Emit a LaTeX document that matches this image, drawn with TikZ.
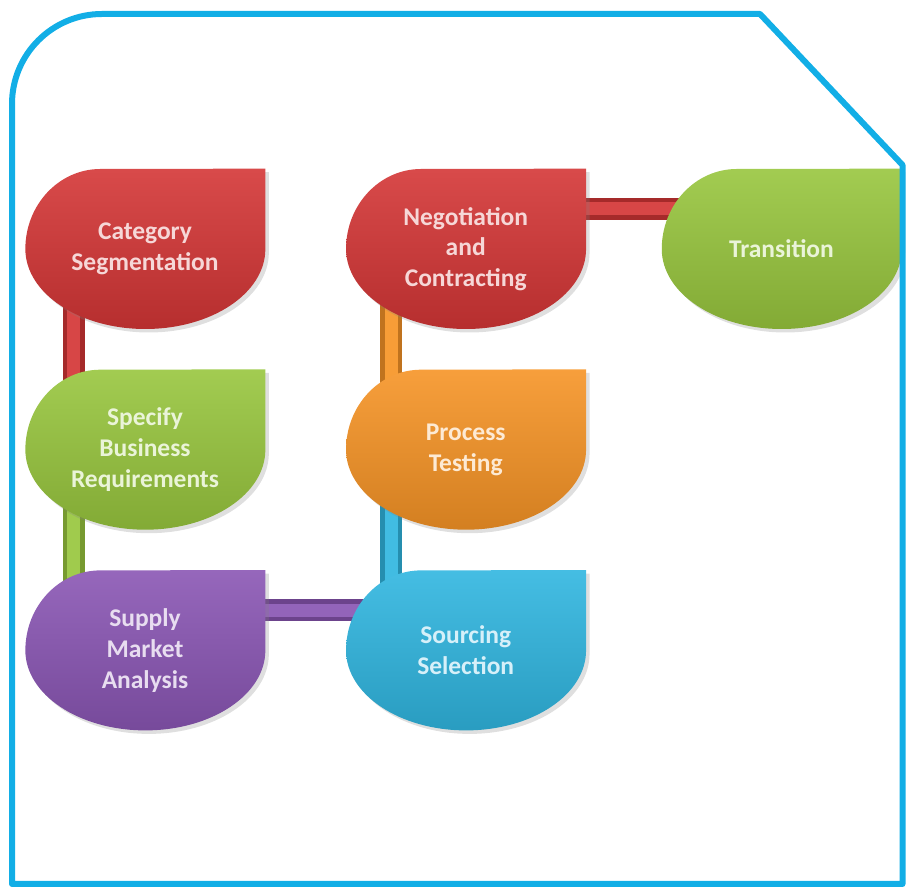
\documentclass[tikz,border=0pt]{standalone}
\usepackage{fontspec}
\setmainfont{Carlito}
\usepackage{xcolor}
\usetikzlibrary{positioning,shadows}

\definecolor{leafred}{RGB}{212,54,54}
\definecolor{leafgreen}{RGB}{152,198,62}
\definecolor{leafpurple}{RGB}{138,86,180}
\definecolor{leaforange}{RGB}{246,148,38}
\definecolor{leafblue}{RGB}{48,182,224}
\definecolor{framecyan}{RGB}{18,174,230}

\pgfdeclarelayer{bars}
\pgfdeclarelayer{leaves}
\pgfsetlayers{bars,leaves,main}

% leaf outline round a stage node: square top right corner
\newcommand\leafshape[2]{%
  \path[leaf=#2] (#1.north east) -- (#1.east)
    arc[start angle=0, end angle=-90, x radius=2.4cm, y radius=1.6cm]
    arc[start angle=270, end angle=180, x radius=2.4cm, y radius=1.6cm]
    arc[start angle=180, end angle=90, x radius=1.5cm, y radius=1.6cm]
    -- cycle;}

\begin{document}
\begin{tikzpicture}[node distance=0.8cm and 1.6cm, font=\bfseries\fontsize{14.5}{17.5}\selectfont]
\tikzstyle{stage}=[minimum width=4.8cm, minimum height=3.2cm, inner sep=0pt, align=center]
\tikzset{
    leaf/.style={top color=#1!90!white, bottom color=#1!86!black,
        drop shadow={shadow xshift=0.07cm, shadow yshift=-0.07cm, opacity=0.25}},
    ink/.style={text=#1!20!white},
    bar/.style={draw=#1!78!black, line width=0.44cm,
        postaction={draw=#1!92!white, line width=0.26cm}},
    frame/.style={draw=framecyan, line width=0.12cm, line join=round}
}
\useasboundingbox (0,0) rectangle (18.12,17.78);

\draw[frame] (0.24,0.1) -- (0.24,15.7) arc[start angle=180, end angle=90, radius=1.8]
    -- (15.2,17.5) -- (18.05,14.48) -- (18.05,0.1) -- cycle;

\node[stage, ink=leafred] (cat) at (2.9,12.8) {Category\\Segmentation};
\node[stage, ink=leafgreen, below=of cat] (spec) {Specify\\Business\\Requirements};
\node[stage, ink=leafpurple, below=of spec] (sup) {Supply\\Market\\Analysis};
\node[stage, ink=leafred, right=of cat] (neg) {Negotiation\\and\\Contracting};
\node[stage, ink=leaforange, below=of neg] (proc) {Process\\Testing};
\node[stage, ink=leafblue, below=of proc] (src) {Sourcing\\Selection};
\node[stage, ink=leafgreen, right=1.5cm of neg] (trans) {Transition};

\begin{pgfonlayer}{leaves}
\leafshape{cat}{leafred}
\leafshape{spec}{leafgreen}
\leafshape{sup}{leafpurple}
\leafshape{neg}{leafred}
\leafshape{proc}{leaforange}
\leafshape{src}{leafblue}
\leafshape{trans}{leafgreen}
\end{pgfonlayer}

\begin{pgfonlayer}{bars}
\draw[bar=leafred] ([xshift=0.98cm]cat.west) -- ([xshift=0.98cm]spec.west);
\draw[bar=leafgreen] ([xshift=0.98cm]spec.west) -- ([xshift=0.98cm]sup.west);
\draw[bar=leafpurple] ([yshift=-0.8cm]sup.north) -- ([yshift=-0.8cm]src.north);
\draw[bar=leafblue] ([xshift=0.92cm]src.west) -- ([xshift=0.92cm]proc.west);
\draw[bar=leaforange] ([xshift=0.92cm]proc.west) -- ([xshift=0.92cm]neg.west);
\draw[bar=leafred] ([yshift=-0.8cm]neg.north) -- ([yshift=-0.8cm]trans.north);
\end{pgfonlayer}
\end{tikzpicture}
\end{document}
